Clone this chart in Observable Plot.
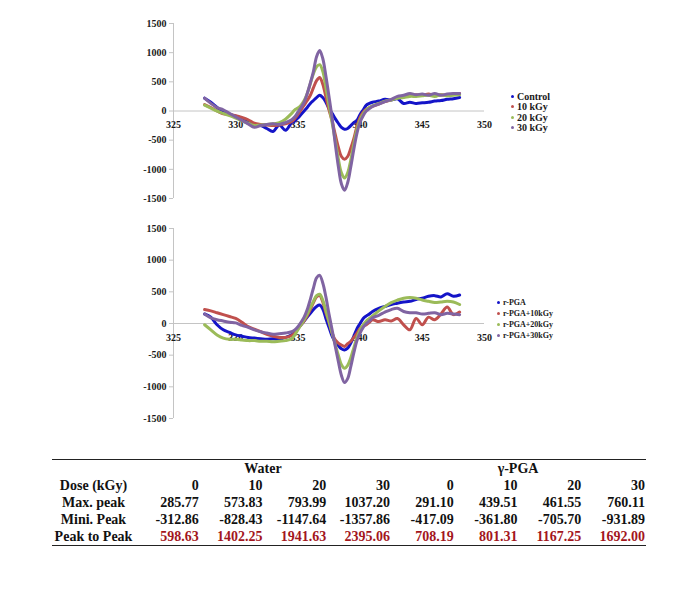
<!DOCTYPE html>
<html><head><meta charset="utf-8">
<script src="https://cdn.jsdelivr.net/npm/d3@7"></script>
<script src="https://cdn.jsdelivr.net/npm/@observablehq/plot@0.6"></script>
<style>
body{margin:0;background:#fff;}
#wrap{position:relative;width:678px;height:603px;overflow:hidden;font-family:"Liberation Serif","Times New Roman",serif;background:#fff;}
.chart{position:absolute;left:0;}
.legend{position:absolute;font-weight:bold;color:#1a1a1a;}
.legend .item{display:flex;align-items:center;white-space:nowrap;}
.legend .dot{width:3px;height:3px;border-radius:50%;margin-right:3px;flex:none;}
#tbl{position:absolute;left:52px;top:459px;width:594px;border-collapse:collapse;font-weight:bold;font-size:14px;color:#111;table-layout:fixed;}
#tbl td{padding:0 1px 0 0;height:17px;line-height:16px;text-align:right;white-space:nowrap;}
#tbl td.lab{text-align:center;}
#tbl td.grp{text-align:center;}
#tbl tr.top td{border-top:1.5px solid #222;}
#tbl tr.bot td{border-bottom:1.5px solid #222;}
#tbl tr.bot td.v{color:#a3161d;}
</style>
</head><body>
<div id="wrap"></div>
<script>
// ---- data ----
const X = [327.5,328,328.5,329,329.5,330,330.5,331,331.5,332,332.5,333,333.5,334,334.5,
  334.75,335,335.25,335.5,335.75,336,336.25,336.5,336.75,337,337.25,337.5,337.75,338,338.25,338.5,338.75,
  339,339.25,339.5,339.75,340,340.25,340.5,340.75,341,
  341.5,342,342.5,343,343.5,344,344.5,345,345.5,346,346.5,347,347.5,348];

// Water series (top panel)
const control = [220,150,60,-20,-60,-90,-150,-190,-240,-250,-300,-350,-240,-330,-200,
  -170,-120,-60,0,60,130,180,230,270,230,150,40,-40,-130,-210,-280,-313,
  -300,-250,-200,-160,-60,20,100,130,150,
  170,200,190,210,130,150,130,140,150,170,180,200,210,230];
const w10 = [110,60,0,-50,-60,-80,-110,-150,-210,-230,-240,-250,-240,-220,-180,
  -130,-60,20,100,180,270,400,520,574,460,240,20,-170,-400,-620,-780,-828,
  -780,-640,-470,-260,-110,-20,30,60,80,
  120,160,190,230,240,270,280,270,290,260,280,270,290,300];
const w20 = [100,50,0,-40,-80,-120,-170,-210,-250,-240,-230,-220,-200,-140,-40,
  20,50,100,180,300,470,640,760,794,680,400,100,-200,-500,-820,-1060,-1148,
  -1060,-840,-560,-310,-150,-50,20,60,90,
  130,170,190,220,230,250,250,260,270,250,280,260,270,280];
const w30 = [220,130,60,20,-40,-100,-160,-220,-280,-250,-230,-220,-230,-200,-150,
  -100,-20,60,150,300,480,680,930,1037,900,600,250,-120,-560,-950,-1250,-1358,
  -1230,-960,-650,-380,-190,-80,0,40,80,
  120,160,200,250,270,300,280,290,270,300,270,290,300,300];

// γ-PGA series (bottom panel)
const pga = [150,100,-20,-100,-140,-180,-200,-220,-230,-240,-250,-240,-250,-220,-180,
  -140,-80,-20,40,100,160,220,270,291,230,80,-60,-200,-290,-350,-400,-417,
  -390,-310,-200,-80,0,80,120,150,190,
  240,270,300,320,340,350,380,400,430,440,420,470,430,450];
const p10 = [220,200,170,140,110,80,20,-50,-90,-130,-170,-200,-220,-220,-190,
  -150,-80,-20,40,120,220,330,420,440,340,170,20,-150,-260,-310,-340,-362,
  -320,-280,-220,-150,-80,-40,-20,20,60,
  30,60,40,80,-20,-100,80,-20,100,60,150,260,140,180];
const p20 = [-20,-100,-180,-230,-250,-250,-260,-270,-270,-280,-280,-290,-280,-270,-240,
  -180,-100,-20,60,150,250,350,440,462,370,200,30,-150,-330,-500,-650,-706,
  -660,-540,-380,-220,-100,-20,40,80,120,
  200,270,330,370,400,410,400,370,350,330,340,350,340,300];
const p30 = [150,90,60,40,20,10,-30,-60,-100,-130,-150,-170,-160,-150,-130,
  -100,-50,20,100,220,380,560,720,760,640,420,150,-100,-360,-600,-820,-932,
  -870,-680,-460,-270,-150,-60,0,40,90,
  130,180,220,240,190,170,170,150,160,170,140,160,150,140];

const xTicks = [325,330,335,340,345,350];
const yTicks = [-1500,-1000,-500,0,500,1000,1500];
const topNames = ["Control","10 kGy","20 kGy","30 kGy"];
const botNames = ["r-PGA","r-PGA+10kGy","r-PGA+20kGy","r-PGA+30kGy"];
const colors = ["#1414c8","#c0504d","#9bbb59","#8064a2"];

const doses = ["0","10","20","30","0","10","20","30"];
const maxPeak = ["285.77","573.83","793.99","1037.20","291.10","439.51","461.55","760.11"];
const minPeak = ["-312.86","-828.43","-1147.64","-1357.86","-417.09","-361.80","-705.70","-931.89"];
const p2p = ["598.63","1402.25","1941.63","2395.06","708.19","801.31","1167.25","1692.00"];

// ---- drawing ----
const wrap = document.getElementById("wrap");

function chart(seriesVals, names, opt) {
  const data = seriesVals.flatMap((vals, k) => X.map((x, i) => ({x, y: vals[i], s: names[k]})));
  const grey = "#c4c4c4";
  return Plot.plot({
    width: 678, height: opt.height,
    marginLeft: 173, marginRight: 194, marginTop: opt.mt, marginBottom: opt.mb,
    x: {domain: [325, 350], axis: null},
    y: {domain: [-1500, 1500], axis: null},
    color: {domain: names, range: colors},
    style: {fontFamily: "'Liberation Serif','Times New Roman',serif", fontSize: "10px", fontWeight: "bold", color: "#1a1a1a", background: "transparent"},
    marks: [
      Plot.ruleX([325], {stroke: grey}),
      Plot.ruleY([0], {stroke: grey}),
      Plot.axisY({ticks: yTicks, tickSize: 4, tickPadding: 3, stroke: grey, tickFormat: d => String(d), label: null, fontWeight: "bold"}),
      Plot.text(xTicks, {x: d => d, y: 0, dy: 14, text: d => String(d), fontWeight: "bold", fill: "#1a1a1a"}),
      Plot.line(data, {x: "x", y: "y", z: "s", stroke: "s", strokeWidth: 3, curve: "catmull-rom", strokeLinejoin: "round"})
    ]
  });
}

function place(el, top) {
  const d = document.createElement("div");
  d.className = "chart";
  d.style.top = top + "px";
  d.appendChild(el);
  wrap.appendChild(d);
}

place(chart([control, w10, w20, w30], topNames, {height: 210, mt: 23, mb: 12}), 0);
place(chart([pga, p10, p20, p30], botNames, {height: 215, mt: 18, mb: 7}), 210);

function legend(names, left, top, fontSize, lineH) {
  const lg = document.createElement("div");
  lg.className = "legend";
  lg.style.left = left + "px";
  lg.style.top = top + "px";
  lg.style.fontSize = fontSize + "px";
  names.forEach((n, i) => {
    const it = document.createElement("div");
    it.className = "item";
    it.style.height = lineH + "px";
    const dot = document.createElement("span");
    dot.className = "dot";
    dot.style.background = colors[i];
    const t = document.createElement("span");
    t.textContent = n;
    it.appendChild(dot); it.appendChild(t);
    lg.appendChild(it);
  });
  wrap.appendChild(lg);
}
legend(topNames, 511, 91, 10, 10.5);
legend(botNames, 497, 297, 8, 11);

// table
const tbl = document.createElement("table");
tbl.id = "tbl";
const cg = document.createElement("colgroup");
[84,63.75,63.75,63.75,63.75,63.75,63.75,63.75,63.75].forEach(w => {
  const c = document.createElement("col"); c.style.width = w + "px"; cg.appendChild(c);
});
tbl.appendChild(cg);
function row(cls, label, vals, valCls) {
  const tr = document.createElement("tr");
  if (cls) tr.className = cls;
  const td0 = document.createElement("td"); td0.className = "lab"; td0.textContent = label; tr.appendChild(td0);
  vals.forEach(v => { const td = document.createElement("td"); td.textContent = v; if (valCls) td.className = valCls; tr.appendChild(td); });
  tbl.appendChild(tr);
}
{
  const tr = document.createElement("tr"); tr.className = "top";
  const e = document.createElement("td"); tr.appendChild(e);
  ["Water","γ-PGA"].forEach(g => { const td = document.createElement("td"); td.colSpan = 4; td.className = "grp"; td.textContent = g; tr.appendChild(td); });
  tbl.appendChild(tr);
}
row(null, "Dose (kGy)", doses);
row(null, "Max. peak", maxPeak);
row(null, "Mini. Peak", minPeak);
row("bot", "Peak to Peak", p2p, "v");
wrap.appendChild(tbl);
</script>
</body></html>
